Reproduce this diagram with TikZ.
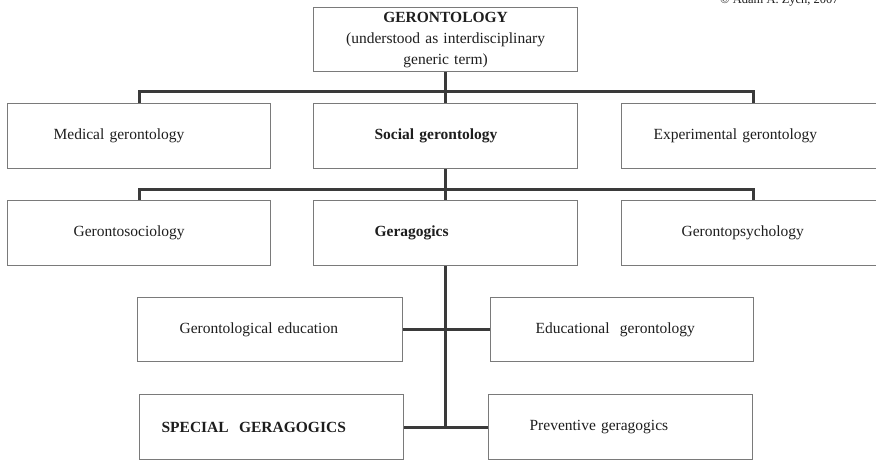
\documentclass[tikz,border=0pt]{standalone}
\usepackage{fontspec}
\setmainfont{Liberation Serif}
\usetikzlibrary{positioning}

\definecolor{boxline}{HTML}{7A7A7A}
\definecolor{linkline}{HTML}{3A3A3A}
\definecolor{ink}{HTML}{1E1E1E}

\tikzset{
  box/.style 2 args={draw=boxline, line width=1.2pt, anchor=north west,
    minimum height=65pt, inner ysep=2pt, text width=#1, inner xsep=#2,
    align=left, text=ink},
  link/.style={draw=linkline, line width=3pt}
}

\begin{document}
\begin{tikzpicture}[x=1pt, y=-1pt, font=\fontsize{15.5}{21}\selectfont]
\useasboundingbox [fill=white] (0,0) rectangle (876,460);

\node [font=\fontsize{12.5}{14}\selectfont, anchor=base west, text=ink, inner sep=0pt] (copy) at (720,4) {\textcopyright{} Adam A. Zych, 2007};

\node [box={240pt}{12pt}, align=center, minimum height=64pt] (top) at (313,7)
  {\textbf{GERONTOLOGY}\\(understood as interdisciplinary\\generic term)};

\node [box={171pt}{46pt}] (med) at (7,103) {Medical gerontology};
\node [box={142pt}{61pt}] (soc) at (313,103) {\textbf{Social gerontology}};
\node [box={199pt}{32pt}] (exp) at (621,103) {Experimental gerontology};

\node [box={131pt}{66pt}] (gsoc) at (7,200) {Gerontosociology};
\node [box={142pt}{61pt}] (gera) at (313,200) {\textbf{Geragogics}};
\node [box={143pt}{60pt}] (gpsy) at (621,200) {Gerontopsychology};

\node [box={181pt}{42pt}, minimum height=64pt] (gedu) at (137,297) {Gerontological education};
\node [box={173pt}{45pt}, minimum height=64pt] (eedu) at (490,297) {Educational\ \ gerontology};

\node [box={220pt}{22pt}] (spec) at (139,394) {\textbf{SPECIAL\ \ GERAGOGICS}};
\node [box={182pt}{41pt}] (prev) at (488,394) {Preventive geragogics};

% branches
\coordinate (bus1) at (445,92);
\coordinate (bus2) at (445,189);
\coordinate (bus3) at (gera.south |- spec.east);

\draw [link] (top) -- (soc);
\draw [link] (med.north) |- (bus1) -| (exp.north);
\draw [link] (soc) -- (gera);
\draw [link] (gsoc.north) |- (bus2) -| (gpsy.north);
\draw [link] (gera.south) -- (bus3);
\draw [link] (gedu.east) -- (eedu.west);
\draw [link] (spec.east) -- (prev.west);
\end{tikzpicture}
\end{document}
